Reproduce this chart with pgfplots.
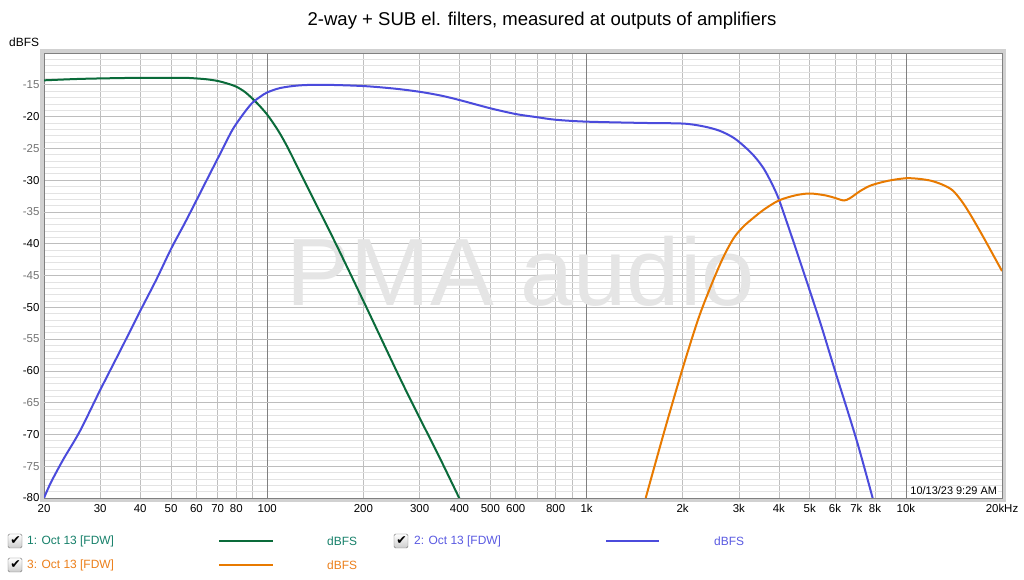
\documentclass[border=0pt]{standalone}
\usepackage{fontspec}
\setmainfont{Liberation Sans}
\newfontfamily\dejavu{DejaVu Sans}
\usepackage{pgfplots}
\pgfplotsset{compat=1.18}
\definecolor{cgreen}{HTML}{0A6B3A}
\definecolor{cblue}{HTML}{4B4BDC}
\definecolor{corange}{HTML}{E87A00}
\definecolor{tgreen}{HTML}{16806A}
\definecolor{tblue}{HTML}{5A5AE2}
\definecolor{torange}{HTML}{EC7F1A}

\pgfplotstableread{
f db
20 -14.3
25 -14.1
30 -14.0
40 -13.9
50 -13.9
55 -13.9
60 -14.0
65 -14.15
70 -14.4
75 -14.8
80 -15.3
85 -16.1
90 -17.2
95 -18.4
100 -19.7
105 -21.2
110 -22.8
116 -24.9
126 -28.5
140 -33.1
164 -40.0
204 -49.9
259 -60.9
296 -66.8
344 -73.3
400 -80.1
}\greendata

\pgfplotstableread{
f db
20 -80.0
21 -77.6
23 -73.9
25.9 -69.5
30 -63.0
35 -56.4
40 -50.6
45 -45.6
50 -40.8
55 -36.9
60 -33.2
66 -29.1
72 -25.4
78 -22.0
85 -19.3
90 -17.8
95 -16.9
100 -16.2
110 -15.5
126 -15.1
150 -15.0
200 -15.2
250 -15.6
300 -16.1
350 -16.7
400 -17.4
500 -18.7
600 -19.6
700 -20.1
800 -20.5
1000 -20.8
1500 -21.0
2000 -21.1
2300 -21.5
2600 -22.2
2900 -23.4
3200 -25.2
3400 -26.6
3600 -28.3
3800 -30.5
4000 -33.0
4392 -38.9
4800 -44.7
5400 -52.5
6000 -60.0
7000 -70.8
7880 -80.1
}\bluedata

\pgfplotstableread{
f db
1532 -80.0
1750 -69.6
2000 -59.6
2250 -51.5
2500 -45.6
2700 -41.8
2900 -39.0
3100 -37.3
3300 -36.1
3600 -34.6
4000 -33.2
4500 -32.4
5000 -32.1
5600 -32.4
6000 -32.8
6400 -33.2
6700 -32.8
7200 -31.7
7800 -30.8
8800 -30.1
10000 -29.7
11000 -29.8
12000 -30.1
13000 -30.7
14000 -31.6
15000 -33.4
16000 -35.6
17500 -39.0
20000 -44.3
}\orangedata

\begin{document}
\begin{tikzpicture}
\path[use as bounding box] (0,0) rectangle (1024bp,580bp);
\fill[white] (0,0) rectangle (1024bp,580bp);
\node[font=\fontsize{18.6}{20}\selectfont] at (542bp,559bp) {2-way + SUB el. filters, measured at outputs of amplifiers};
\node[font=\fontsize{12}{14}\selectfont, anchor=west, inner sep=0pt] at (9bp,538bp) {dBFS};
% sunken frame
\draw[black!18, line width=4bp] (42bp,80bp) rectangle (1004bp,529bp);
\begin{axis}[
  at={(44bp,82bp)}, anchor=south west,
  scale only axis, width=958bp, height=445bp,
  xmode=log, xmin=20, xmax=20000, ymin=-80, ymax=-10,
  xtick={20,30,40,50,60,70,80,100,200,300,400,500,600,800,1000,2000,3000,4000,5000,6000,7000,8000,10000,20000},
  xticklabels={20,30,40,50,60,70,80,100,200,300,400,500,600,800,1k,2k,3k,4k,5k,6k,7k,8k,10k,20kHz},
  minor xtick={90,700,900,9000},
  ytick={-80,-70,-60,-50,-40,-30,-20},
  yticklabels={-80,-70,-60,-50,-40,-30,-20},
  minor ytick={-80,-79,...,-10},
  extra y ticks={-75,-65,-55,-45,-35,-25,-15},
  extra y tick labels={-75,-65,-55,-45,-35,-25,-15},
  extra y tick style={yticklabel style={text=black!55}, major y grid style={draw=black!26, line width=0.6bp}},
  extra x ticks={100,1000,10000},
  extra x tick labels={},
  extra x tick style={major x grid style={draw=black!50, line width=0.7bp}},
  xmajorgrids, xminorgrids, ymajorgrids, yminorgrids,
  major x grid style={draw=black!25, line width=0.6bp},
  minor x grid style={draw=black!25, line width=0.6bp},
  major y grid style={draw=black!26, line width=0.6bp},
  minor y grid style={draw=black!11, line width=0.6bp},
  tick style={draw=none}, major tick length=0pt, minor tick length=0pt,
  tick label style={font=\fontsize{11.5}{13}\selectfont},
  xticklabel style={yshift=-3bp},
  yticklabel style={xshift=-1bp},
  axis line style={draw=black!50, line width=0.8bp},
  clip=true,
]
\node[text=black!10, font=\fontsize{96}{100}\selectfont] at (axis cs:622,-44.4) {PMA audio};
\addplot[cgreen, line width=2bp, smooth, tension=0.5] table[x=f,y=db] {\greendata};
\addplot[cblue, line width=2bp, smooth, tension=0.5] table[x=f,y=db] {\bluedata};
\addplot[corange, line width=2bp, smooth, tension=0.5] table[x=f,y=db] {\orangedata};
\node[anchor=south east, fill=white, inner sep=1bp, font=\fontsize{11}{12}\selectfont] at (rel axis cs:0.996,0.005) {10/13/23 9:29 AM};
\end{axis}
% legend
\foreach \cx/\cy in {15/39, 401/39, 15/15} {
  \draw[black!55, rounded corners=1.5bp, top color=white, bottom color=black!20] (\cx bp-7bp,\cy bp-7bp) rectangle (\cx bp+7bp,\cy bp+7bp);
  \node[font=\dejavu\fontsize{12.5}{12.5}\selectfont, inner sep=0pt] at (\cx bp+0.5bp,\cy bp+0.5bp) {✔};
}
\node[anchor=west, inner sep=0pt, text=tgreen, font=\fontsize{12}{14}\selectfont] at (27bp,39bp) {1: Oct 13 [FDW]};
\draw[cgreen, line width=2.2bp] (219bp,39bp) -- (273bp,39bp);
\node[anchor=west, inner sep=0pt, text=tgreen, font=\fontsize{12}{14}\selectfont] at (327bp,39bp) {dBFS};
\node[anchor=west, inner sep=0pt, text=tblue, font=\fontsize{12}{14}\selectfont] at (414bp,39bp) {2: Oct 13 [FDW]};
\draw[cblue, line width=2.2bp] (606bp,39bp) -- (659bp,39bp);
\node[anchor=west, inner sep=0pt, text=tblue, font=\fontsize{12}{14}\selectfont] at (714bp,39bp) {dBFS};
\node[anchor=west, inner sep=0pt, text=torange, font=\fontsize{12}{14}\selectfont] at (27bp,15bp) {3: Oct 13 [FDW]};
\draw[corange, line width=2.2bp] (219bp,15bp) -- (273bp,15bp);
\node[anchor=west, inner sep=0pt, text=torange, font=\fontsize{12}{14}\selectfont] at (327bp,15bp) {dBFS};
\end{tikzpicture}
\end{document}
